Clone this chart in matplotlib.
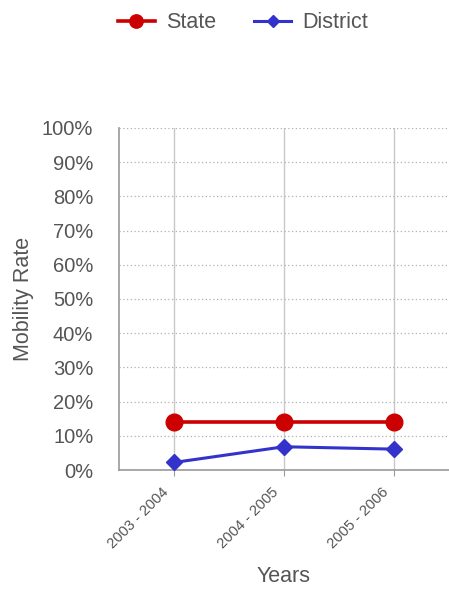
import matplotlib.pyplot as plt
from matplotlib.ticker import PercentFormatter
from matplotlib.transforms import ScaledTranslation

plt.rcParams['font.family'] = ['Liberation Sans', 'DejaVu Sans']

years = ['2003 - 2004', '2004 - 2005', '2005 - 2006']
state_rate = [14.1, 14.1, 14.1]
district_rate = [2.2, 6.8, 6.1]

text_grey = '#555555'
red = '#cc0000'
blue = '#3333cc'

W, H = 449, 589
fig = plt.figure(figsize=(W / 100, H / 100), dpi=100)
ax = fig.add_axes([119 / W, (H - 470) / H, 1 - 119 / W, (470 - 128) / H])

x = range(len(years))
ax.plot(x, state_rate, color=red, lw=2.6, marker='o', ms=12, label='State', zorder=3)
ax.plot(x, district_rate, color=blue, lw=2.2, marker='D', ms=8, label='District', zorder=3)

ax.set_xlim(-0.5, 2.5)
ax.set_ylim(0, 100)
ax.set_yticks(range(0, 101, 10))
ax.yaxis.set_major_formatter(PercentFormatter(decimals=0))
ax.set_xticks(list(x))
ax.set_xticklabels(years, rotation=45, ha='right', va='bottom', rotation_mode='anchor',
                   fontsize=10.6, color=text_grey)
ax.tick_params(axis='y', labelsize=14.5, colors=text_grey, length=0, pad=18.5)
ax.tick_params(axis='x', length=4, color='#999999', pad=14)
# nudge the slanted year labels a little left of their ticks
shift = ScaledTranslation(-3 / 100, 0, fig.dpi_scale_trans)
for lbl in ax.get_xticklabels():
    lbl.set_transform(lbl.get_transform() + shift)

ax.grid(axis='y', linestyle=(0, (1, 2)), color='#b0b0b0', lw=0.9)
ax.grid(axis='x', linestyle='-', color='#c8c8c8', lw=1.0)
for side in ['top', 'right']:
    ax.spines[side].set_visible(False)
for side in ['left', 'bottom']:
    ax.spines[side].set_color('#999999')
    ax.spines[side].set_linewidth(1.2)

ax.set_ylabel('Mobility Rate', fontsize=15.5, color=text_grey, va='center')
ax.set_xlabel('Years', fontsize=15.5, color=text_grey, va='center')
ax.yaxis.set_label_coords((23 - 119) / 330, 0.5)
ax.xaxis.set_label_coords(0.5, (470 - 576) / 342)

fig.legend(loc='center left', bbox_to_anchor=(118 / W, 1 - 23 / H), ncol=2,
           frameon=False, borderpad=0, borderaxespad=0,
           fontsize=15.5, labelcolor=text_grey, markerscale=0.8,
           handlelength=1.7, handletextpad=0.55, columnspacing=1.75)

fig.savefig('out.png', dpi=100)
